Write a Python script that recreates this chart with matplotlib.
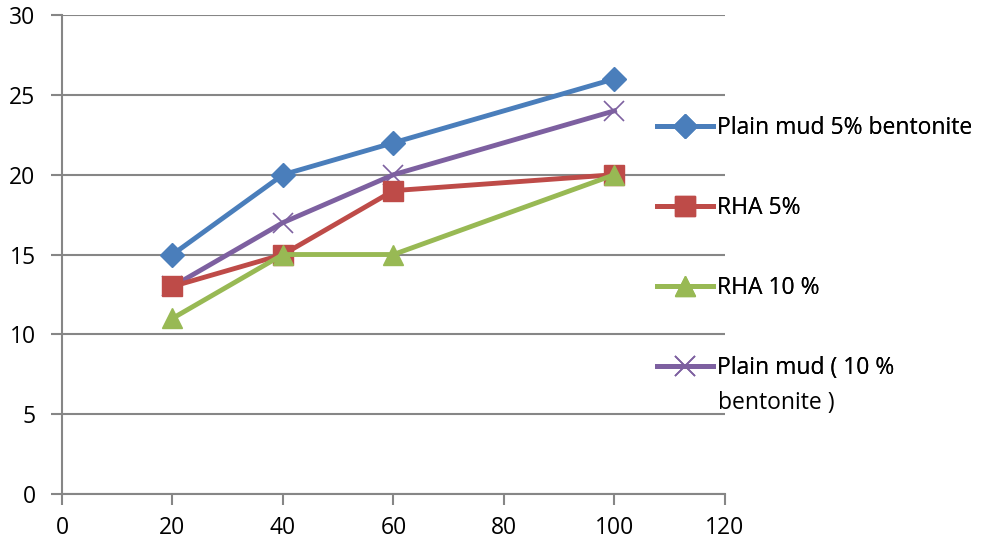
import matplotlib
matplotlib.use("Agg")
import matplotlib.pyplot as plt

plt.rcParams['font.family'] = ['Open Sans', 'DejaVu Sans']

x_values = [20, 40, 60, 100]
plain_mud_5 = [15, 20, 22, 26]
rha_5 = [13, 15, 19, 20]
rha_10 = [11, 15, 15, 20]
plain_mud_10 = [13, 17, 20, 24]

series_labels = ["Plain mud 5% bentonite", "RHA 5%", "RHA 10 %",
                 "Plain mud ( 10 %", "bentonite )"]

fig = plt.figure(figsize=(9.81, 5.46), dpi=100)
ax = fig.add_axes([0.0632, 0.0952, 0.6758, 0.8773])

grid_col = "#868686"
lw = 3.5
l1, = ax.plot(x_values, plain_mud_5, color="#4A7EBB", lw=lw, marker="D", ms=12,
              zorder=5)
l2, = ax.plot(x_values, rha_5, color="#BE4B48", lw=lw, marker="s", ms=14,
              zorder=4)
l3, = ax.plot(x_values, rha_10, color="#98B954", lw=lw, marker="^", ms=14,
              zorder=6)
l4, = ax.plot(x_values, plain_mud_10, color="#7D60A0", lw=lw, marker="x", ms=14,
              mew=1.2, zorder=3)

ax.set_xlim(0, 120)
ax.set_ylim(0, 30)
ax.set_xticks(range(0, 121, 20))
ax.set_yticks(range(0, 31, 5))
ax.yaxis.grid(True, color=grid_col, lw=1.5)
ax.set_axisbelow(True)
for s in ("top", "right"):
    ax.spines[s].set_visible(False)
for s in ("left", "bottom"):
    ax.spines[s].set_color(grid_col)
    ax.spines[s].set_linewidth(1.5)
ax.tick_params(axis="both", colors=grid_col, width=1.5, length=8,
               labelcolor="black", labelsize=16.5)
ax.tick_params(axis="y", pad=11)
ax.tick_params(axis="x", pad=8)

# Legend: one single-entry legend per series, stacked on the right
W, H = 981, 546
fs = 16.5
rows = [(l1, series_labels[0], 128), (l2, series_labels[1], 208),
        (l3, series_labels[2], 288), (l4, series_labels[3], 368)]
for handle, label, ypx in rows:
    lg = fig.legend([handle], [label], loc="center left",
                    bbox_to_anchor=(657 / W, 1 - ypx / H), frameon=False,
                    fontsize=fs, handlelength=2.45, handletextpad=0.15,
                    borderpad=0, borderaxespad=0)
    fig.add_artist(lg)
fig.text(718 / W, 1 - 403 / H, series_labels[4], fontsize=fs,
         va="center", ha="left")

fig.savefig("out.png", dpi=100)
